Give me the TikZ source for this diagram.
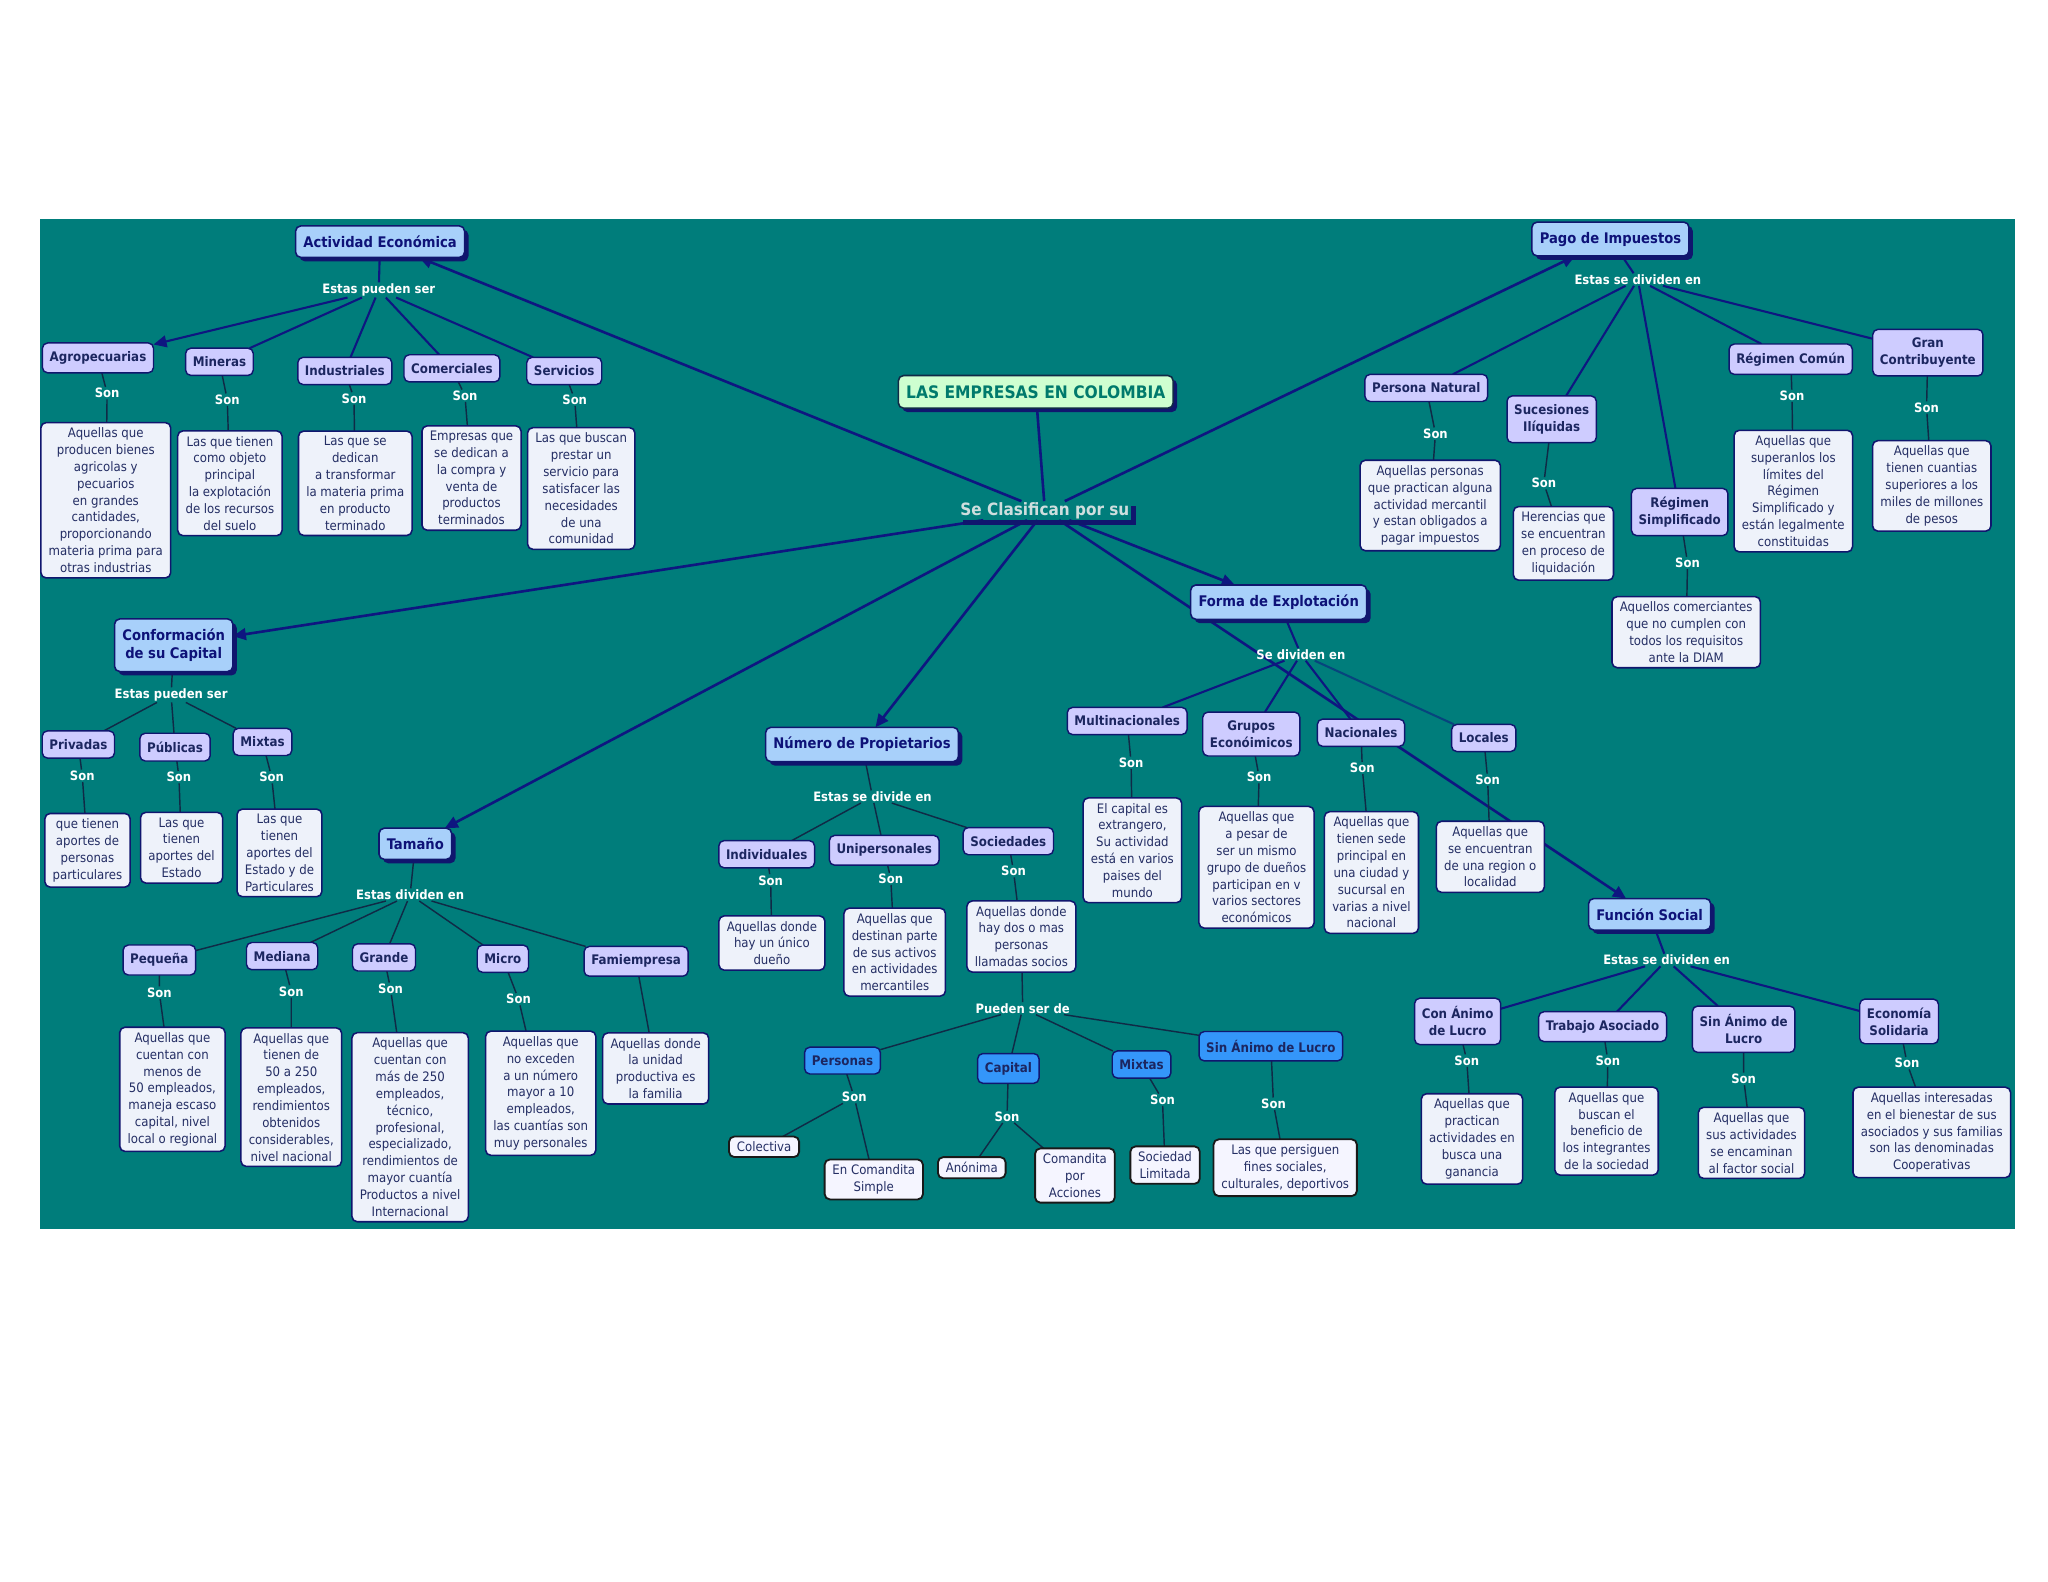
\documentclass[tikz,border=0pt]{standalone}
\usepackage{fontspec}
\setmainfont{DejaVu Sans Condensed}
\usetikzlibrary{arrows.meta,shadows,calc}
\definecolor{mapbg}{RGB}{0,125,123}
\definecolor{inknavy}{RGB}{16,22,110}
\definecolor{linkblue}{RGB}{14,22,128}
\definecolor{darkline}{RGB}{16,42,70}
\definecolor{cptfill}{RGB}{168,208,250}
\definecolor{cpttext}{RGB}{14,18,120}
\definecolor{subfill}{RGB}{206,204,255}
\definecolor{subtext}{RGB}{28,38,96}
\definecolor{descfill}{RGB}{238,242,250}
\definecolor{desctext}{RGB}{36,46,100}
\definecolor{titlefill}{RGB}{206,255,208}
\definecolor{titletext}{RGB}{0,122,108}
\definecolor{hubtext}{RGB}{206,222,222}
\definecolor{brightblue}{RGB}{52,150,250}
\pgfdeclarelayer{bg}
\pgfdeclarelayer{ln}
\pgfsetlayers{bg,ln,main}
\begin{document}
\begin{tikzpicture}[x=1pt,y=-1pt,>={Triangle[length=10pt,width=9pt]},
 every node/.style={align=center,outer sep=0pt},
 cpt/.style={draw=inknavy,line width=1.2pt,rounded corners=4pt,fill=cptfill,text=cpttext,
   inner xsep=6pt,inner ysep=7.5pt,font=\fontsize{11.2}{14}\selectfont\bfseries,
   drop shadow={shadow xshift=3pt,shadow yshift=-3pt,fill=inknavy,opacity=1}},
 ttl/.style={cpt,fill=titlefill,text=titletext,draw=darkline,font=\fontsize{13.2}{15}\selectfont\bfseries},
 hub/.style={text=hubtext,inner sep=1pt,font=\fontsize{13}{15}\selectfont\bfseries},
 sub/.style={draw=inknavy,line width=1.1pt,rounded corners=4pt,fill=subfill,text=subtext,
   inner xsep=5.5pt,inner ysep=6.5pt,font=\fontsize{10.1}{13}\selectfont\bfseries},
 bsub/.style={sub,fill=brightblue},
 desc/.style={draw=inknavy,line width=1.2pt,rounded corners=4pt,fill=descfill,text=desctext,
   inner xsep=6pt,inner ysep=4pt,font=\fontsize{10}{12.9}\selectfont},
 wbox/.style={desc,draw=black!90,line width=1.4pt,fill=white!96!blue},
 phrase/.style={text=white,inner sep=1pt,font=\fontsize{9.9}{11}\selectfont\bfseries},
 mainln/.style={draw=linkblue,line width=2pt},
 subln/.style={draw=linkblue,line width=1.6pt},
 darkln/.style={draw=darkline,line width=1.1pt}]
\begin{pgfonlayer}{bg}
  \fill[white] (0,0) rectangle (1568,1211);
  \fill[mapbg] (31,168) rectangle (1543,941);
\end{pgfonlayer}
\useasboundingbox (0,0) rectangle (1568,1211);

% centre
\node[ttl] (title) at (793,300) {LAS EMPRESAS EN COLOMBIA};
\node[hub] (clasif) at (800,391) {Se Clasifican por su};
\fill[inknavy] ($(clasif.south west)+(3,0)$) rectangle ($(clasif.south east)+(4,4)$);
\fill[inknavy] ($(clasif.north east)+(0,4)$) rectangle ($(clasif.south east)+(4,4)$);

% main concepts
\node[cpt] (actE) at (291,185) {Actividad Económica};
\node[cpt] (pago) at (1233,183) {Pago de Impuestos};
\node[cpt] (conf) at (133,494) {Conformación\\de su Capital};
\node[cpt] (tam) at (318,646) {Tamaño};
\node[cpt] (num) at (660,570) {Número de Propietarios};
\node[cpt] (forma) at (979,461) {Forma de Explotación};
\node[cpt] (func) at (1263,700) {Función Social};

% linking phrases
\node[phrase] (actL) at (290,222) {Estas pueden ser};
\node[phrase] (pagoL) at (1254,214) {Estas se dividen en};
\node[phrase] (confL) at (131,532) {Estas pueden ser};
\node[phrase] (tamL) at (314,685) {Estas dividen en};
\node[phrase] (numL) at (668,610) {Estas se divide en};
\node[phrase] (formaL) at (996,501) {Se dividen en};
\node[phrase] (funcL) at (1276,735) {Estas se dividen en};
\node[phrase] (socL) at (783,772) {Pueden ser de};

% Actividad Economica
\node[sub] (agro) at (75,274) {Agropecuarias};
\node[sub] (mine) at (168,277) {Mineras};
\node[sub] (indu) at (264,284) {Industriales};
\node[sub] (come) at (346,282) {Comerciales};
\node[sub] (serv) at (432,284) {Servicios};
\node[desc] (agroD) at (81,383) {Aquellas que\\producen bienes\\agricolas y\\pecuarios\\en grandes\\cantidades,\\proporcionando\\materia prima para\\otras industrias};
\node[desc] (mineD) at (176,370) {Las que tienen\\como objeto\\principal\\la explotación\\de los recursos\\del suelo};
\node[desc] (induD) at (272,370) {Las que se\\dedican\\a transformar\\la materia prima\\en producto\\terminado};
\node[desc] (comeD) at (361,366) {Empresas que\\se dedican a\\la compra y\\venta de\\productos\\terminados};
\node[desc] (servD) at (445,374) {Las que buscan\\prestar un\\servicio para\\satisfacer las\\necesidades\\de una\\comunidad};

% Pago de Impuestos
\node[sub] (pnat) at (1092,297) {Persona Natural};
\node[sub] (suce) at (1188,321) {Sucesiones\\Ilíquidas};
\node[sub] (rsim) at (1286,392) {Régimen\\Simplificado};
\node[sub] (rcom) at (1371,275) {Régimen Común};
\node[sub] (gcon) at (1476,270) {Gran\\Contribuyente};
\node[desc] (pnatD) at (1095,387) {Aquellas personas\\que practican alguna\\actividad mercantil\\y estan obligados a\\pagar impuestos};
\node[desc] (suceD) at (1197,416) {Herencias que\\se encuentran\\en proceso de\\liquidación};
\node[desc] (rsimD) at (1291,484) {Aquellos comerciantes\\que no cumplen con\\todos los requisitos\\ante la DIAM};
\node[desc] (rcomD) at (1373,376) {Aquellas que\\superanlos los\\límites del\\Régimen\\Simplificado y\\están legalmente\\constituidas};
\node[desc] (gconD) at (1479,372) {Aquellas que\\tienen cuantias\\superiores a los\\miles de millones\\de pesos};

% Conformacion de su Capital
\node[sub] (priv) at (60,570) {Privadas};
\node[sub] (publ) at (134,572) {Públicas};
\node[sub] (mixc) at (201,568) {Mixtas};
\node[desc] (privD) at (67,651) {que tienen\\aportes de\\personas\\particulares};
\node[desc] (publD) at (139,649) {Las que\\tienen\\aportes del\\Estado};
\node[desc] (mixcD) at (214,653) {Las que\\tienen\\aportes del\\Estado y de\\Particulares};

% Tamano
\node[sub] (pequ) at (122,735) {Pequeña};
\node[sub] (medi) at (216,732) {Mediana};
\node[sub] (gran) at (294,733) {Grande};
\node[sub] (micr) at (385,734) {Micro};
\node[sub] (fami) at (487,736) {Famiempresa};
\node[desc] (pequD) at (132,834) {Aquellas que\\cuentan con\\menos de\\50 empleados,\\maneja escaso\\capital, nivel\\local o regional};
\node[desc] (mediD) at (223,840) {Aquellas que\\tienen de\\50 a 250\\empleados,\\rendimientos\\obtenidos\\considerables,\\nivel nacional};
\node[desc] (granD) at (314,863) {Aquellas que\\cuentan con\\más de 250\\empleados,\\técnico,\\profesional,\\especializado,\\rendimientos de\\mayor cuantía\\Productos a nivel\\Internacional};
\node[desc] (micrD) at (414,837) {Aquellas que\\no exceden\\a un número\\mayor a 10\\empleados,\\las cuantías son\\muy personales};
\node[desc] (famiD) at (502,818) {Aquellas donde\\la unidad\\productiva es\\la familia};

% Numero de Propietarios
\node[sub] (indi) at (587,654) {Individuales};
\node[sub] (unip) at (677,651) {Unipersonales};
\node[sub] (soci) at (772,644) {Sociedades};
\node[desc] (indiD) at (591,722) {Aquellas donde\\hay un único\\dueño};
\node[desc] (unipD) at (685,729) {Aquellas que\\destinan parte\\de sus activos\\en actividades\\mercantiles};
\node[desc] (sociD) at (782,717) {Aquellas donde\\hay dos o mas\\personas\\llamadas socios};
\node[bsub] (pers) at (645,812) {Personas};
\node[bsub] (capi) at (772,818) {Capital};
\node[bsub] (mixs) at (874,815) {Mixtas};
\node[bsub] (sluc) at (973,801) {Sin Ánimo de Lucro};
\node[wbox] (cole) at (585,878) {Colectiva};
\node[wbox] (csim) at (669,903) {En Comandita\\Simple};
\node[wbox] (anon) at (744,894) {Anónima};
\node[wbox] (cacc) at (823,900) {Comandita\\por\\Acciones};
\node[wbox] (slim) at (892,892) {Sociedad\\Limitada};
\node[wbox] (slucD) at (984,894) {Las que persiguen\\fines sociales,\\culturales, deportivos};

% Forma de Explotacion
\node[sub] (mult) at (863,552) {Multinacionales};
\node[sub] (grup) at (958,562) {Grupos\\Econóimicos};
\node[sub] (naci) at (1042,561) {Nacionales};
\node[sub] (loca) at (1136,565) {Locales};
\node[desc] (multD) at (867,651) {El capital es\\extrangero,\\Su actividad\\está en varios\\paises del\\mundo};
\node[desc] (grupD) at (962,664) {Aquellas que\\a pesar de\\ser un mismo\\grupo de dueños\\participan en v\\varios sectores\\económicos};
\node[desc] (naciD) at (1050,668) {Aquellas que\\tienen sede\\principal en\\una ciudad y\\sucursal en\\varias a nivel\\nacional};
\node[desc] (locaD) at (1141,656) {Aquellas que\\se encuentran\\de una region o\\localidad};

% Funcion Social
\node[sub] (conl) at (1116,782) {Con Ánimo\\de Lucro};
\node[sub] (trab) at (1227,786) {Trabajo Asociado};
\node[sub] (sinl) at (1335,788) {Sin Ánimo de\\Lucro};
\node[sub] (econ) at (1454,782) {Economía\\Solidaria};
\node[desc] (conlD) at (1127,872) {Aquellas que\\practican\\actividades en\\busca una\\ganancia};
\node[desc] (trabD) at (1230,866) {Aquellas que\\buscan el\\beneficio de\\los integrantes\\de la sociedad};
\node[desc] (sinlD) at (1341,875) {Aquellas que\\sus actividades\\se encaminan\\al factor social};
\node[desc] (econD) at (1479,867) {Aquellas interesadas\\en el bienestar de sus\\asociados y sus familias\\son las denominadas\\Cooperativas};

% "Son" labels
\foreach \n/\x/\y in {agroS/82/301,mineS/174/306,induS/271/305,comeS/356/303,servS/440/306,
  pnatS/1099/332,suceS/1182/370,rsimS/1292/431,rcomS/1372/303,gconS/1475/312,
  privS/63/594,publS/137/595,mixcS/208/595,
  pequS/122/760,mediS/223/759,granS/299/757,micrS/397/765,
  indiS/590/674,unipS/682/673,sociS/776/667,
  multS/866/584,grupS/964/595,naciS/1043/588,locaS/1139/597,
  conlS/1123/812,trabS/1231/812,sinlS/1335/826,econS/1460/814,
  persS/654/840,capiS/771/855,mixsS/890/842,slucS/975/845}
  \node[phrase] (\n) at (\x,\y) {Son};

\begin{pgfonlayer}{ln}
  % from the centre
  \draw[mainln] (title) -- (clasif);
  \foreach \t in {actE,pago,conf,tam,num,forma,func}
    \draw[mainln,->] (clasif) -- (\t);
  % groups
  \draw[subln] (actE) -- (actL);
  \draw[subln,->] (actL) -- (agro);
  \foreach \t in {mine,indu,come,serv} \draw[subln] (actL) -- (\t);
  \draw[subln] (pago) -- (pagoL);
  \foreach \t in {pnat,suce,rsim,rcom,gcon} \draw[subln] (pagoL) -- (\t);
  \draw[darkln] (conf) -- (confL);
  \foreach \t in {priv,publ,mixc} \draw[darkln] (confL) -- (\t);
  \draw[darkln] (tam) -- (tamL);
  \foreach \t in {pequ,medi,gran,micr,fami} \draw[darkln] (tamL) -- (\t);
  \draw[darkln] (num) -- (numL);
  \foreach \t in {indi,unip,soci} \draw[darkln] (numL) -- (\t);
  \draw[darkln] (sociD) -- (socL);
  \foreach \t in {pers,capi,mixs,sluc} \draw[darkln] (socL) -- (\t);
  \draw[subln] (forma) -- (formaL);
  \foreach \t in {mult,grup,naci} \draw[subln] (formaL) -- (\t);
  \draw[subln,draw opacity=.55] (formaL) -- (loca);
  \draw[subln] (func) -- (funcL);
  \foreach \t in {conl,trab,sinl,econ} \draw[subln] (funcL) -- (\t);
  % Son chains
  \foreach \a in {agro,mine,indu,come,serv,pnat,suce,rsim,rcom,gcon,priv,publ,mixc,
    pequ,medi,gran,micr,indi,unip,soci,mult,grup,naci,loca,conl,trab,sinl,econ,sluc}
    \draw[darkln] (\a) -- (\a S) -- (\a D);
  \draw[darkln] (fami) -- (famiD);
  \draw[darkln] (pers) -- (persS) -- (cole);
  \draw[darkln] (persS) -- (csim);
  \draw[darkln] (capi) -- (capiS) -- (anon);
  \draw[darkln] (capiS) -- (cacc);
  \draw[darkln] (mixs) -- (mixsS) -- (slim);
\end{pgfonlayer}
\end{tikzpicture}
\end{document}
